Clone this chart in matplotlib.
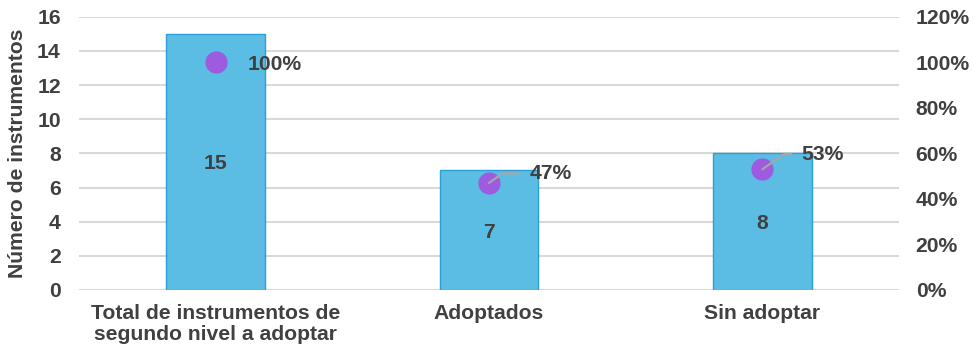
import matplotlib.pyplot as plt
from matplotlib.ticker import FuncFormatter

categories = ["Total de instrumentos de\nsegundo nivel a adoptar", "Adoptados", "Sin adoptar"]
counts = [15, 7, 8]
shares = [100, 47, 53]

left_ticks = [0, 2, 4, 6, 8, 10, 12, 14, 16]
right_ticks = [0, 20, 40, 60, 80, 100, 120]

text_color = "#404040"
bar_color = "#5BBCE4"
bar_edge = "#2A9FD8"
dot_color = "#9E5BE0"
grid_color = "#D9D9D9"
FS = 15.2

plt.rcParams["font.family"] = ["Liberation Sans", "DejaVu Sans"]
plt.rcParams["font.weight"] = "bold"

fig = plt.figure(figsize=(9.74, 3.51), dpi=100)
ax = fig.add_axes([0.081, 0.174, 0.842, 0.778])
ax2 = ax.twinx()

x = list(range(len(categories)))
ax.bar(x, counts, width=0.36, color=bar_color, edgecolor=bar_edge, linewidth=1.0, zorder=2)
ax.set_xlim(-0.5, 2.5)
ax.set_ylim(0, 16)
ax.set_yticks(left_ticks)
ax.yaxis.grid(True, color=grid_color, linewidth=1.5, zorder=0)
ax.set_axisbelow(True)
ax.set_xticks(x)
ax.set_xticklabels(categories, fontsize=FS, color=text_color, fontweight="bold", linespacing=1.12)
ax.tick_params(axis="y", length=0, labelsize=FS, labelcolor=text_color, pad=13)
ax.tick_params(axis="x", length=0, labelsize=FS, labelcolor=text_color, pad=10)
ax.set_ylabel("Número de instrumentos", fontsize=FS, color=text_color, fontweight="bold", labelpad=7)

for xi, c in zip(x, counts):
    ax.text(xi, c / 2, str(c), ha="center", va="center_baseline", fontsize=FS,
            color=text_color, fontweight="bold", zorder=5)

ax2.set_ylim(0, 120)
ax2.set_yticks(right_ticks)
ax2.yaxis.set_major_formatter(FuncFormatter(lambda v, p: f"{v:.0f}%"))
ax2.tick_params(axis="y", length=0, labelsize=FS, labelcolor=text_color, pad=12)

for a in (ax, ax2):
    for s in a.spines.values():
        s.set_visible(False)

ax2.plot(x, shares, linestyle="none", marker="o", markersize=15,
         color=dot_color, zorder=4)

# percentage labels; the two smaller ones sit offset with a short leader
ax2.annotate(f"{shares[0]}%", (x[0], shares[0]), xytext=(23, -1.5), textcoords="offset points",
             ha="left", va="center", fontsize=FS, color=text_color, fontweight="bold")
for i, (dx, dy) in zip([1, 2], [(29, 7), (28, 11)]):
    ax2.annotate(f"{shares[i]}%", (x[i], shares[i]), xytext=(dx, dy), textcoords="offset points",
                 ha="left", va="center", fontsize=FS, color=text_color, fontweight="bold",
                 zorder=6,
                 arrowprops=dict(arrowstyle="-", color="#A6A6A6", linewidth=1.6,
                                 shrinkA=5, shrinkB=0, zorder=6,
                                 connectionstyle="angle,angleA=0,angleB=35,rad=0"))

for side in (ax, ax2):
    for lbl in side.get_yticklabels():
        lbl.set_fontweight("bold")

fig.savefig("out.png", dpi=100)
